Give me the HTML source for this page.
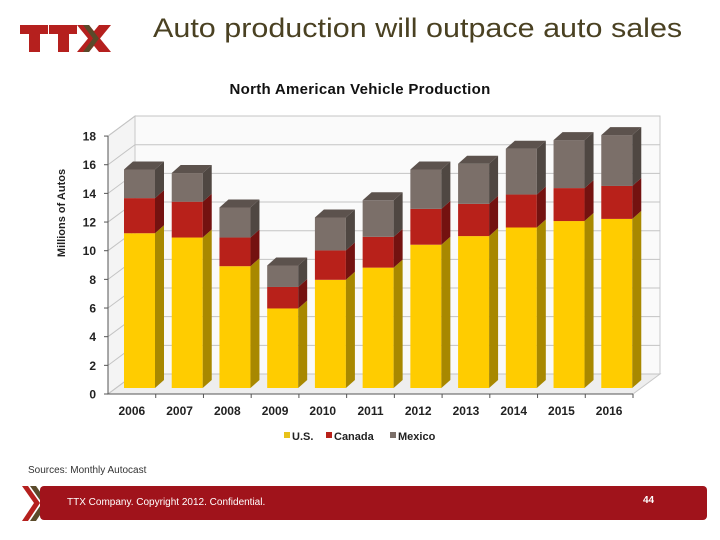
<!DOCTYPE html>
<html><head><meta charset="utf-8"><style>
body{margin:0;width:720px;height:540px;background:#fff;overflow:hidden;font-family:"Liberation Sans",sans-serif;position:relative}
.abs{position:absolute}
</style></head><body>
<div class="abs" style="left:18px;top:22px;width:95px;height:32px">
<svg width="95" height="32"><g fill="#b5201e">
<rect x="2" y="3" width="28" height="9"/><rect x="11" y="3" width="11" height="27"/>
<rect x="31" y="3" width="28" height="9"/><rect x="40" y="3" width="11" height="27"/>
<polygon points="59,3 71,3 93,30 81,30"/><polygon points="81,3 93,3 71,30 59,30"/></g>
<polygon points="65,3 71,3 81,16.5 71,30 65,30 75,16.5" fill="#5a4a2a"/></svg></div>
<div class="abs" style="left:153px;top:13px;width:470px;font-size:27px;color:#4a4122;white-space:nowrap;transform:scaleX(1.13);transform-origin:0 0">Auto production will outpace auto sales</div>
<svg class="abs" style="left:0;top:0" width="720" height="470" id="chart"></svg>
<div class="abs" style="left:28px;top:465px;font-size:10px;color:#333">Sources: Monthly Autocast</div>
<svg class="abs" style="left:20px;top:486px" width="34" height="36">
<polygon points="2,0 8,0 20,17 8,35 2,35 14,17" fill="#b5201e"/><polygon points="10,0 16,0 28,17 16,35 10,35 22,17" fill="#5a4a2a"/></svg>
<div class="abs" style="left:40px;top:486px;width:667px;height:34px;background:#a0131b;border-radius:4px"></div>
<div class="abs" style="left:67px;top:497px;font-size:10px;color:#fff">TTX Company. Copyright 2012. Confidential.</div>
<div class="abs" style="left:643px;top:495px;font-size:10px;font-weight:bold;color:#fff">44</div>
<script>
const years=["2006","2007","2008","2009","2010","2011","2012","2013","2014","2015","2016"];
const us=[10.8,10.5,8.5,5.55,7.55,8.4,10.0,10.6,11.2,11.65,11.8];
const canada=[2.45,2.5,2.0,1.5,2.05,2.15,2.5,2.25,2.3,2.3,2.3];
const mexico=[2.0,2.0,2.1,1.5,2.3,2.55,2.75,2.8,3.2,3.35,3.55];
const yTicks=[0,2,4,6,8,10,12,14,16,18];
const NS="http://www.w3.org/2000/svg";
const svg=document.getElementById('chart');
const X0=108,X1=633,Y0=394,PX=14.33,DX=27,DY=20;
const cw=(X1-X0)/years.length;
const yv=v=>Y0-v*PX;
function mk(t,a,txt){const e=document.createElementNS(NS,t);for(const k in a)e.setAttribute(k,a[k]);if(txt!==undefined)e.textContent=txt;svg.appendChild(e);return e;}
let e;
e=mk('polygon',{points:`${X0+DX},${yv(18)-DY-0} ${X1+DX},${yv(18)-DY} ${X1+DX},${Y0-DY} ${X0+DX},${Y0-DY}`,fill:'#fafafa',stroke:'#c8c8c8'});

e=mk('polygon',{points:`${X0},${yv(18)} ${X0+DX},${yv(18)-DY} ${X0+DX},${Y0-DY} ${X0},${Y0}`,fill:'#f4f4f4',stroke:'#c8c8c8'});

e=mk('polygon',{points:`${X0},${Y0} ${X0+DX},${Y0-DY} ${X1+DX},${Y0-DY} ${X1},${Y0}`,fill:'#eeeeee',stroke:'#c8c8c8'});

yTicks.forEach(t=>{
 e=mk('polyline',{points:`${X0},${yv(t)} ${X0+DX},${yv(t)-DY} ${X1+DX},${yv(t)-DY}`,fill:'none',stroke:'#c4c4c4'});
 
 e=mk('text',{x:96,y:yv(t)+4.5,'text-anchor':'end','font-size':12,'font-weight':'bold',fill:'#222'},t);
 
 mk('line',{x1:X0-4,y1:yv(t),x2:X0,y2:yv(t),stroke:'#555'});
});
mk('line',{x1:X0,y1:yv(18),x2:X0,y2:Y0,stroke:'#555'});
mk('line',{x1:X0,y1:Y0,x2:X1,y2:Y0,stroke:'#555'});
const BX=16,BW=31,BD=9,BH=8,BASE=Y0-6;
function seg(i,v0,v1,f,s,top,name){
 const x=X0+i*cw+BX,y0=BASE-v0*PX,y1=BASE-v1*PX;
 let g=mk('rect',{x:x,y:y1,width:BW,height:y0-y1,fill:f});
 
 g=mk('polygon',{points:`${x+BW},${y1} ${x+BW+BD},${y1-BH} ${x+BW+BD},${y0-BH} ${x+BW},${y0}`,fill:s});
 
 if(top){g=mk('polygon',{points:`${x},${y1} ${x+BD},${y1-BH} ${x+BW+BD},${y1-BH} ${x+BW},${y1}`,fill:top});
 }
}
years.forEach((yr,i)=>{
 const a=us[i],b=a+canada[i],c=b+mexico[i];
 seg(i,0,a,'#ffcc00','#a88800',null,'bar-us-'+yr);
 seg(i,a,b,'#b8211a','#741210',null,'bar-canada-'+yr);
 seg(i,b,c,'#7b6f69','#4f4742','#5c524d','bar-mexico-'+yr);
 e=mk('text',{x:X0+(i+0.5)*cw,y:415,'text-anchor':'middle','font-size':12,'font-weight':'bold',fill:'#222'},yr);
 
 mk('line',{x1:X0+(i+1)*cw,y1:Y0,x2:X0+(i+1)*cw,y2:Y0+4,stroke:'#555'});
});
e=mk('text',{x:360,y:94,'text-anchor':'middle','font-size':15,'font-weight':'bold','letter-spacing':'0.3',fill:'#111'},'North American  Vehicle  Production');

e=mk('text',{x:0,y:0,transform:'translate(65,213) rotate(-90)','text-anchor':'middle','font-size':11,'font-weight':'bold',fill:'#222'},'Millions of Autos');

[['U.S.','#e8c21a',284],['Canada','#b8211a',326],['Mexico','#7b6f69',390]].forEach(l=>{
 e=mk('rect',{x:l[2],y:432,width:6,height:6,fill:l[1]});
 
 e=mk('text',{x:l[2]+8,y:440,'font-size':11,'font-weight':'bold',fill:'#222'},l[0]);
 
});
</script>
</body></html>
